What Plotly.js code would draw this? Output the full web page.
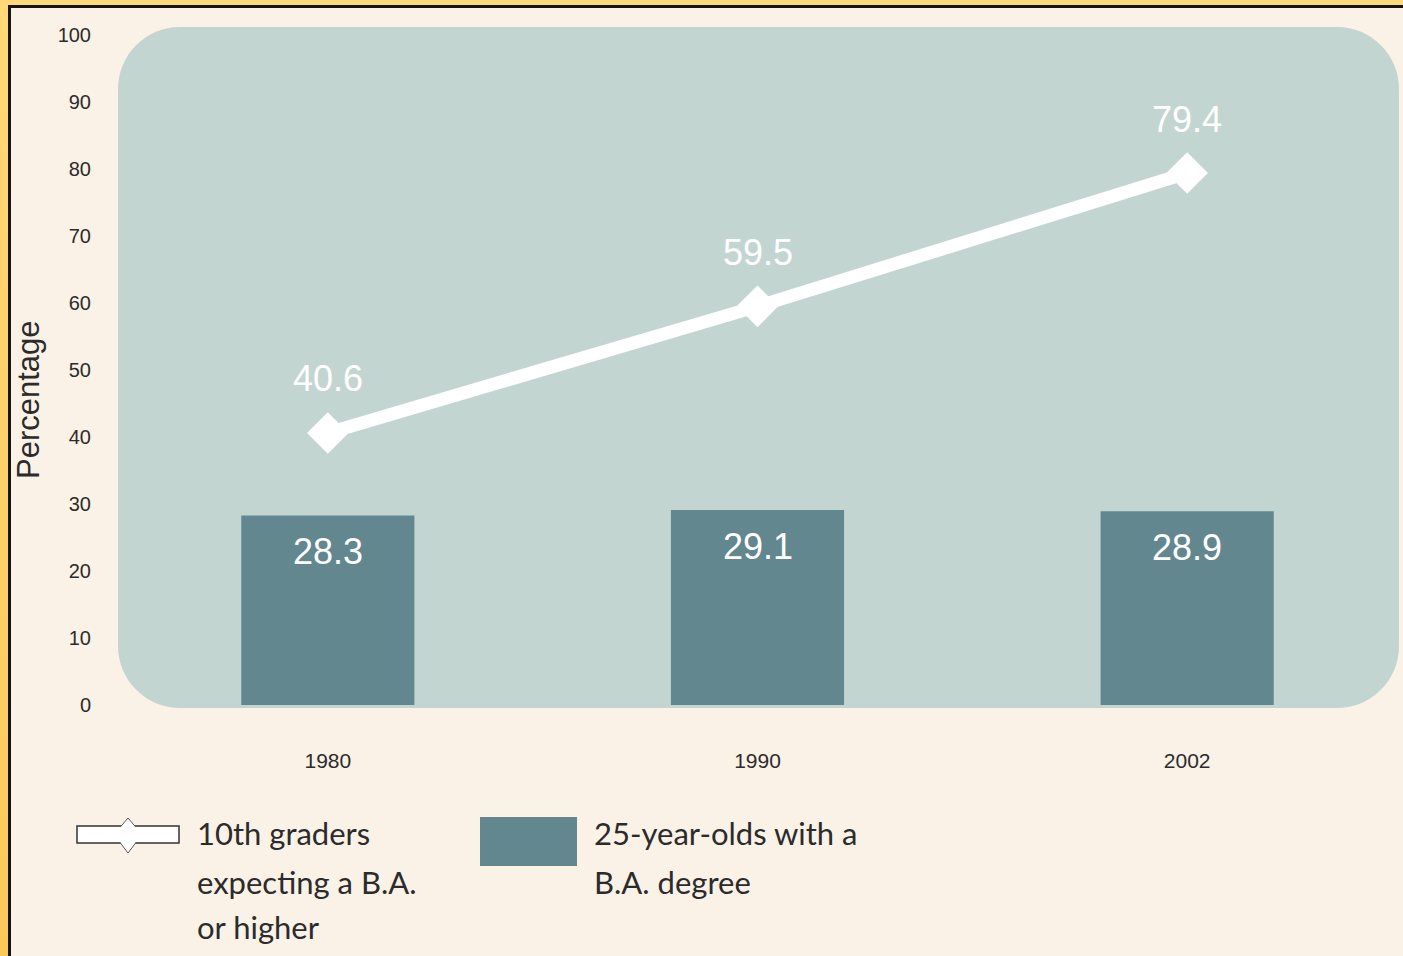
<!DOCTYPE html>
<html>
<head>
<meta charset="utf-8">
<script src="https://cdn.plot.ly/plotly-3.0.1.min.js"></script>
<style>
  html, body { margin: 0; padding: 0; background: #FBF2E7; }
  #wrap { position: relative; width: 1403px; height: 956px; overflow: hidden; }
  #chart { position: absolute; left: 0; top: 0; width: 1403px; height: 956px; }
  .fr { position: absolute; pointer-events: none; }
</style>
</head>
<body>
<div id="wrap">
  <div id="chart"></div>
  <div class="fr" style="left:0;top:0;width:1403px;height:5px;background:#FFD878;"></div>
  <div class="fr" style="left:0;top:0;width:8px;height:956px;background:linear-gradient(#FFD878,#FBC95A);"></div>
  <div class="fr" style="left:8px;top:5px;width:1395px;height:3px;background:#151515;"></div>
  <div class="fr" style="left:8px;top:5px;width:3px;height:951px;background:#151515;"></div>
</div>
<script>
// ---- data ----
const years = ['1980', '1990', '2002'];
const expectBA = [40.6, 59.5, 79.4];      // 10th graders expecting a B.A. or higher
const haveBA = [28.3, 29.1, 28.9];        // 25-year-olds with a B.A. degree
const yTicks = [0, 10, 20, 30, 40, 50, 60, 70, 80, 90, 100];
const legendLine = ['10th graders', 'expecting a B.A.', 'or higher'];
const legendBar = ['25-year-olds with a', 'B.A. degree'];
const yTitle = 'Percentage';

// ---- styling / geometry ----
const W = 1403, H = 956;
const mL = 113, mR = 1, mT = 27, mB = 247;
const pw = W - mL - mR, ph = H - mT - mB;
const px2x = p => (p - mL) / pw;
const py2y = p => (H - mB - p) / ph;

const panel = '#C3D5D1';
const barColor = '#62878F';
const textDark = '#2b2b2b';
const numFont = 'Liberation Sans, Arial, sans-serif';
const legFont = 'Lato, Open Sans, sans-serif';

function roundRect(x0p, y0p, x1p, y1p, r) {
  const x0 = px2x(x0p), x1 = px2x(x1p), yT = py2y(y0p), yB = py2y(y1p);
  const rx = r / pw, ry = r / ph, k = 0.5523;
  return `M ${x0 + rx},${yT} L ${x1 - rx},${yT} ` +
    `C ${x1 - rx + rx * k},${yT} ${x1},${yT - ry + ry * k} ${x1},${yT - ry} ` +
    `L ${x1},${yB + ry} ` +
    `C ${x1},${yB + ry - ry * k} ${x1 - rx + rx * k},${yB} ${x1 - rx},${yB} ` +
    `L ${x0 + rx},${yB} ` +
    `C ${x0 + rx - rx * k},${yB} ${x0},${yB + ry - ry * k} ${x0},${yB + ry} ` +
    `L ${x0},${yT - ry} ` +
    `C ${x0},${yT - ry + ry * k} ${x0 + rx - rx * k},${yT} ${x0 + rx},${yT} Z`;
}

const shapes = [
  { type: 'path', xref: 'paper', yref: 'paper', layer: 'below',
    path: roundRect(118, 27, 1399, 708, 62), fillcolor: panel, line: { width: 0 } },
  { type: 'rect', xref: 'paper', yref: 'paper',
    x0: px2x(77), x1: px2x(179), y0: py2y(843), y1: py2y(826),
    fillcolor: '#ffffff', line: { color: '#333333', width: 1.5 } },
  { type: 'path', xref: 'paper', yref: 'paper',
    path: `M ${px2x(114)},${py2y(834.5)} L ${px2x(128)},${py2y(818)} L ${px2x(142)},${py2y(834.5)} L ${px2x(128)},${py2y(853)} Z`,
    fillcolor: '#ffffff', line: { color: '#555555', width: 1 } },
  { type: 'rect', xref: 'paper', yref: 'paper',
    x0: px2x(86), x1: px2x(170), y0: py2y(842), y1: py2y(827),
    fillcolor: '#ffffff', line: { width: 0 } },
  { type: 'rect', xref: 'paper', yref: 'paper',
    x0: px2x(480), x1: px2x(577), y0: py2y(866), y1: py2y(817),
    fillcolor: barColor, line: { width: 0 } }
];

const annotations = [];
years.forEach((yr, i) => annotations.push({
  x: i, y: expectBA[i], xref: 'x', yref: 'y', text: expectBA[i].toFixed(1),
  showarrow: false, yshift: 54, yanchor: 'middle', xanchor: 'center',
  font: { family: numFont, size: 36, color: '#ffffff' }
}));
years.forEach((yr, i) => annotations.push({
  x: i, y: haveBA[i], xref: 'x', yref: 'y', text: haveBA[i].toFixed(1),
  showarrow: false, yshift: -36, yanchor: 'middle', xanchor: 'center',
  font: { family: numFont, size: 36, color: '#ffffff' }
}));
annotations.push({
  xref: 'paper', yref: 'paper', x: px2x(28), y: py2y(400), text: yTitle,
  textangle: -90, showarrow: false, xanchor: 'center', yanchor: 'middle',
  font: { family: numFont, size: 31, color: textDark }
});
const lineYs = [833, 882, 927];
legendLine.forEach((t, i) => annotations.push({
  xref: 'paper', yref: 'paper', x: px2x(195), y: py2y(lineYs[i]), text: t,
  showarrow: false, xanchor: 'left', yanchor: 'middle',
  font: { family: legFont, size: 31, color: textDark }
}));
legendBar.forEach((t, i) => annotations.push({
  xref: 'paper', yref: 'paper', x: px2x(592), y: py2y(lineYs[i]), text: t,
  showarrow: false, xanchor: 'left', yanchor: 'middle',
  font: { family: legFont, size: 31, color: textDark }
}));

const traces = [
  { type: 'bar', x: years, y: haveBA, width: 0.403,
    marker: { color: barColor, line: { width: 0 } },
    hoverinfo: 'none', showlegend: false },
  { type: 'scatter', mode: 'lines+markers', x: years, y: expectBA,
    line: { color: '#ffffff', width: 13 },
    marker: { symbol: 'diamond', size: 32, color: '#ffffff' },
    hoverinfo: 'none', showlegend: false }
];

const layout = {
  width: W, height: H,
  margin: { l: mL, r: mR, t: mT, b: mB, pad: 0 },
  paper_bgcolor: '#FBF2E7', plot_bgcolor: 'rgba(0,0,0,0)',
  showlegend: false,
  xaxis: {
    type: 'category', range: [-0.5, 2.5], showgrid: false, zeroline: false, showline: false,
    ticks: 'outside', ticklen: 33, tickcolor: 'rgba(0,0,0,0)',
    tickfont: { family: numFont, size: 21, color: textDark }
  },
  yaxis: {
    range: [-0.6, 101.2], tickvals: yTicks, ticktext: yTicks.map(String),
    showgrid: false, zeroline: false, showline: false,
    ticks: 'outside', ticklen: 17, tickcolor: 'rgba(0,0,0,0)',
    tickfont: { family: numFont, size: 20, color: textDark }
  },
  shapes: shapes,
  annotations: annotations
};

Plotly.newPlot('chart', traces, layout, { displayModeBar: false, staticPlot: true });
</script>
</body>
</html>
